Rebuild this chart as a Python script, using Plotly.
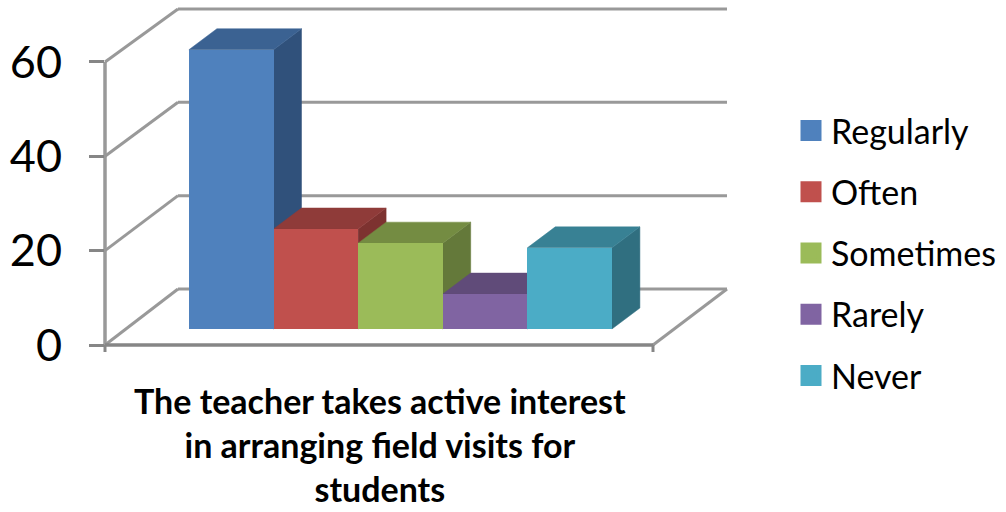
import plotly.graph_objects as go

# Data
categories = ["Regularly", "Often", "Sometimes", "Rarely", "Never"]
values = [59.2, 21.2, 18.2, 7.4, 17.2]
y_ticks = [0, 20, 40, 60]
axis_label = "The teacher takes active interest<br>in arranging field visits for<br>students"

# Styles
front_colors = ["#4F81BD", "#C0504D", "#9BBB59", "#8064A2", "#4BACC6"]
top_colors = ["#3B6292", "#8F3B39", "#748C42", "#604B79", "#388194"]
side_colors = ["#30517B", "#7D3230", "#64793A", "#533F69", "#306F80"]
FONT = "Lato"

# Pixel geometry of the plot area, used only to set axis ranges and depth
L, R, T, B = 105, 727, 4, 345
PX_X = 84.6
PX_Y = 4.717
X_LEFT = -(231.2 - L) / PX_X
X_RIGHT = X_LEFT + (R - L) / PX_X
Y_TOP = (B - T) / PX_Y
WALL_DX = 73 / PX_X
WALL_DY = 56 / PX_Y
WALL_SCALE = 93.3 / 94.3
FRONT_RIGHT = X_LEFT + (653 - L) / PX_X
BAR_DX = 28 / PX_X
BAR_DY = 21 / PX_Y
FLOOR = 16 / PX_Y

fig = go.Figure()

# Depth faces of the bars, on the primary axes
for i, (v, tc, sc) in enumerate(zip(values, top_colors, side_colors)):
    x0, x1 = i - 0.5, i + 0.5
    top = FLOOR + v
    fig.add_trace(go.Scatter(
        x=[x1, x1 + BAR_DX, x1 + BAR_DX, x1, x1],
        y=[top, top + BAR_DY, FLOOR + BAR_DY, FLOOR, top],
        mode="lines", fill="toself", fillcolor=sc, line=dict(color=sc, width=0.5),
        showlegend=False, hoverinfo="skip"))
    fig.add_trace(go.Scatter(
        x=[x0, x1, x1 + BAR_DX, x0 + BAR_DX, x0],
        y=[top, top, top + BAR_DY, top + BAR_DY, top],
        mode="lines", fill="toself", fillcolor=tc, line=dict(color=tc, width=0.5),
        showlegend=False, hoverinfo="skip"))

# Legend entries
for name, c in zip(categories, front_colors):
    fig.add_trace(go.Scatter(
        x=[None], y=[None], name=name, legendgroup=name, mode="markers",
        marker=dict(symbol="square", size=16, color=c, line=dict(color=c, width=5))))

# Front faces of the bars, on overlay axes so they sit above the depth faces
for i, (name, v, c) in enumerate(zip(categories, values, front_colors)):
    fig.add_trace(go.Bar(
        x=[i], y=[v], base=FLOOR, width=1, name=name, marker=dict(color=c, line=dict(width=0)),
        xaxis="x2", yaxis="y2", showlegend=False))

# Walls and axis lines
GRID = "#999999"
AXIS = "#868686"
def px(x):
    return (x - X_LEFT) / (X_RIGHT - X_LEFT)
def py(y):
    return y / Y_TOP
shapes = []
def seg(x0, y0, x1, y1, color=GRID, width=3):
    shapes.append(dict(type="line", layer="below", xref="paper", yref="paper",
                       x0=px(x0), y0=py(y0), x1=px(x1), y1=py(y1),
                       line=dict(color=color, width=width)))
for t in y_ticks:
    back = t * WALL_SCALE + WALL_DY
    seg(X_LEFT, t, X_LEFT + WALL_DX, back)
    seg(X_LEFT + WALL_DX, back, X_RIGHT, back)
seg(FRONT_RIGHT, 0, X_RIGHT, WALL_DY)
seg(X_LEFT, 0, X_LEFT, y_ticks[-1], color=GRID, width=3.5)
seg(X_LEFT, 0, FRONT_RIGHT, 0, color=AXIS, width=3.5)
seg(X_LEFT, 0, X_LEFT, -7 / PX_Y, color=AXIS, width=3)
seg(FRONT_RIGHT, 0, FRONT_RIGHT, -7 / PX_Y, color=AXIS, width=3)

axis_common = dict(showgrid=False, zeroline=False, showline=False)
fig.update_layout(
    width=1006, height=512, autosize=False,
    margin=dict(l=L, r=1006 - R, t=T, b=512 - B, pad=0),
    paper_bgcolor="white", plot_bgcolor="rgba(0,0,0,0)",
    barmode="overlay", bargap=0,
    shapes=shapes,
    font=dict(family=FONT, color="black"),
    xaxis=dict(range=[X_LEFT, X_RIGHT], showticklabels=False, ticks="", **axis_common),
    yaxis=dict(range=[0, Y_TOP], tickvals=y_ticks, ticks="outside", ticklen=15, tickwidth=3,
               ticklabelstandoff=18,
               tickcolor=AXIS, tickfont=dict(size=45, family=FONT, color="black"), **axis_common),
    xaxis2=dict(range=[X_LEFT, X_RIGHT], overlaying="x", visible=False),
    yaxis2=dict(range=[0, Y_TOP], overlaying="y", visible=False),
    legend=dict(x=(791 - L) / (R - L), y=(B - 102) / (B - T), xanchor="left", yanchor="top",
                font=dict(size=34, family=FONT, color="black"), tracegroupgap=14,
                bgcolor="rgba(0,0,0,0)"),
    annotations=[dict(text="<b>" + axis_label.replace("<br>", "</b><br><b>") + "</b>",
                      xref="paper", yref="paper", x=px(X_LEFT + (379.5 - L) / PX_X),
                      y=(B - 378) / (B - T), xanchor="center", yanchor="top", showarrow=False,
                      font=dict(size=34, family=FONT, color="black"))],
)

fig.write_html("out.html", config=dict(displayModeBar=False),
               post_script="document.body.style.margin='0';")
